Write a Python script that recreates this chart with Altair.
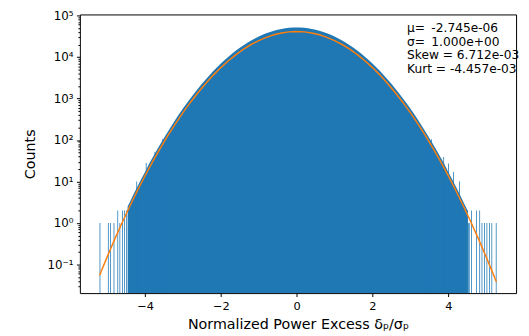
import altair as alt
import pandas as pd

# ---- data ----
Y_MIN, Y_MAX = 0.0205, 1.06e5
X_MIN, X_MAX = -5.72, 5.79
BIN_W = 0.02  # width of one histogram bin (data units)

# dense body of the histogram: envelope of bar tops (counts per bin)
body_x = [-4.46, -4.4, -4.3, -4.2, -4.1, -4.0, -3.9, -3.8, -3.7, -3.6, -3.5,
          -3.4, -3.3, -3.2, -3.1, -3.0, -2.9, -2.8, -2.7, -2.6, -2.5, -2.4,
          -2.3, -2.2, -2.1, -2.0, -1.9, -1.8, -1.7, -1.6, -1.5, -1.4, -1.3,
          -1.2, -1.1, -1.0, -0.9, -0.8, -0.7, -0.6, -0.5, -0.4, -0.3, -0.2,
          -0.1, 0.0, 0.1, 0.2, 0.3, 0.4, 0.5, 0.6, 0.7, 0.8, 0.9, 1.0, 1.1,
          1.2, 1.3, 1.4, 1.5, 1.6, 1.7, 1.8, 1.9, 2.0, 2.1, 2.2, 2.3, 2.4,
          2.5, 2.6, 2.7, 2.8, 2.9, 3.0, 3.1, 3.2, 3.3, 3.4, 3.5, 3.6, 3.7,
          3.8, 3.9, 4.0, 4.1, 4.2, 4.3, 4.4, 4.5, 4.52]
body_counts = [2.5, 3.2, 5.0, 7.6, 11.5, 17, 26, 38, 55, 79, 112,
               159, 222, 307, 421, 571, 767, 1020, 1340, 1750, 2260, 2890,
               3650, 4570, 5670, 6960, 8460, 10200, 12100, 14300, 16700, 19300, 22100,
               25000, 28100, 31200, 34300, 37300, 40200, 42900, 45400, 47500, 49100, 50400,
               51100, 51400, 51100, 50400, 49100, 47500, 45400, 42900, 40200, 37300, 34300, 31200, 28100,
               25000, 22100, 19300, 16700, 14300, 12100, 10200, 8460, 6960, 5670, 4570, 3650, 2890,
               2260, 1750, 1340, 1020, 767, 571, 421, 307, 222, 159, 112, 79, 55,
               38, 26, 17, 11.5, 7.6, 5.0, 3.2, 2.1, 2.0]

# sparse single bins in the tails and a few spikes on the flanks
tail_x = [-5.20, -4.98, -4.92, -4.83, -4.73, -4.675, -4.605, -4.55, -4.50,
          -4.23, -3.98, -3.75, -3.55,
          3.55, 3.87, 4.00, 4.13, 4.29,
          4.52, 4.545, 4.605, 4.735, 4.82, 4.88, 4.95, 5.01, 5.08, 5.14, 5.255]
tail_counts = [1, 1, 1, 1, 2, 1, 2, 2, 2,
               10, 28, 52, 105,
               105, 39, 27, 17, 10,
               1, 1, 2, 2, 2, 1, 1, 1, 1, 1, 1]

# fitted gaussian (orange line)
fit_x = [-5.2, -5.0, -4.8, -4.6, -4.4, -4.2, -4.0, -3.8, -3.6, -3.4, -3.2,
         -3.0, -2.8, -2.6, -2.4, -2.2, -2.0, -1.8, -1.6, -1.4, -1.2, -1.0,
         -0.8, -0.6, -0.4, -0.2, 0.0, 0.2, 0.4, 0.6, 0.8, 1.0, 1.2, 1.4,
         1.6, 1.8, 2.0, 2.2, 2.4, 2.6, 2.8, 3.0, 3.2, 3.4, 3.6, 3.8, 4.0,
         4.2, 4.4, 4.6, 4.8, 5.0, 5.2, 5.27]
fit_counts = [0.0552, 0.153, 0.409, 1.045, 2.57, 6.07, 13.8, 30.1, 63.1, 127, 246,
              457, 816, 1400, 2310, 3660, 5560, 8130, 11400, 15400, 20000, 24900,
              29800, 34300, 37900, 40300, 41100, 40300, 37900, 34300, 29800, 24900, 20000, 15400,
              11400, 8130, 5560, 3660, 2310, 1400, 816, 457, 246, 127, 63.1, 30.1, 13.8,
              6.07, 2.57, 1.045, 0.409, 0.153, 0.0552, 0.0383]

stats_lines = ["μ= \u2009-2.745e-06", "σ= \u20091.000e+00", "Skew = 6.712e-03", "Kurt = -4.457e-03"]

x_ticks = [-4, -2, 0, 2, 4]
y_major = [0.1, 1, 10, 100, 1000, 10000, 100000]
y_labels = ["10⁻¹", "10⁰", "10¹", "10²", "10³", "10⁴", "10⁵"]
y_minor = [m * d for d in [0.01, 0.1, 1, 10, 100, 1000, 10000] for m in range(2, 10)
           if Y_MIN <= m * d <= Y_MAX]

x_title = "Normalized Power Excess δₚ/σₚ"
y_title = "Counts"

# ---- build ----
W, H = 443, 283
FONT = "DejaVu Sans"
BLUE = "#1f77b4"
ORANGE = "#ff7f0e"

body_df = pd.DataFrame({"x": body_x, "count": body_counts})
tail_df = pd.DataFrame({"x": tail_x, "count": tail_counts})
fit_df = pd.DataFrame({"x": fit_x, "count": fit_counts})
stats_df = pd.DataFrame({"t": ["\n".join(stats_lines)]})

label_expr = "".join(f"datum.value == {v} ? '{lab}' : " for v, lab in zip(y_major, y_labels)) + "''"
major_test = f"indexof({y_major}, datum.value) >= 0"

xscale = alt.Scale(domain=[X_MIN, X_MAX], nice=False, zero=False)
yscale = alt.Scale(type="log", domain=[Y_MIN, Y_MAX], nice=False)

xaxis = alt.Axis(values=x_ticks, format="d", grid=False, domain=False,
                 tickSize=3.5, tickColor="black", labelFontSize=11.5, labelColor="black",
                 labelFont=FONT, labelPadding=4.5, labelFlush=False,
                 title=x_title, titleFont=FONT, titleFontSize=14.5, titleFontWeight="normal",
                 titleColor="black", titleX=W / 2, titleY=36.4, titleBaseline="alphabetic")
yaxis = alt.Axis(values=y_major + y_minor, labelExpr=label_expr, grid=False, domain=False,
                 tickSize={"condition": {"test": major_test, "value": 3.5}, "value": 2},
                 tickColor="black", labelFontSize=12, labelColor="black", labelFont=FONT,
                 labelPadding=3.5, labelOverlap=False, labelFlush=False,
                 title=y_title, titleFont=FONT, titleFontSize=14.5, titleFontWeight="normal",
                 titleColor="black", titleX=-46, titleY=H / 2, titleAngle=270,
                 titleBaseline="alphabetic")

body = alt.Chart(body_df).mark_area(color=BLUE, opacity=1, interpolate="linear").encode(
    x=alt.X("x:Q", scale=xscale, axis=xaxis),
    y=alt.Y("count:Q", scale=yscale, axis=yaxis),
    y2=alt.datum(Y_MIN),
)

tails = alt.Chart(tail_df).transform_calculate(x_end=f"datum.x + {BIN_W}").mark_rect(color=BLUE).encode(
    x="x:Q", x2="x_end:Q", y="count:Q", y2=alt.datum(Y_MIN)
)

fit = alt.Chart(fit_df).mark_line(color=ORANGE, strokeWidth=1.5, clip=True).encode(
    x="x:Q", y="count:Q"
)

stats = alt.Chart(stats_df).mark_text(
    align="left", baseline="alphabetic", lineBreak="\n", lineHeight=13.8,
    font=FONT, fontSize=12.4, color="black"
).encode(x=alt.value(332.3), y=alt.value(18), text="t:N")

chart = alt.layer(body, tails, fit, stats).properties(
    width=W, height=H,
    padding={"left": 73, "top": 4, "right": 5, "bottom": 40},
    autosize=alt.AutoSizeParams(type="none"),
).configure_view(stroke="black", strokeWidth=1)

chart.save("out.html", embed_options={"renderer": "svg", "actions": False})
